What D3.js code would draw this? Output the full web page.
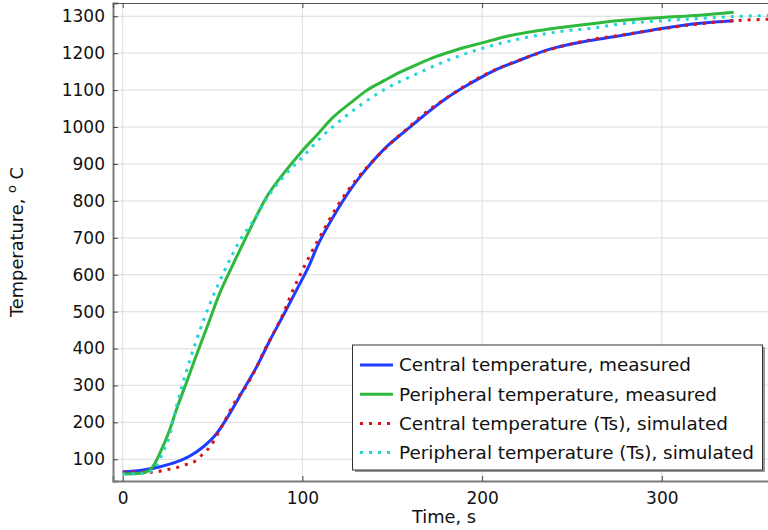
<!DOCTYPE html>
<html>
<head>
<meta charset="utf-8">
<script src="https://cdn.jsdelivr.net/npm/d3@7"></script>
<style>
  body { margin: 0; background: #fff; }
  svg { display: block; font-family: "DejaVu Sans", sans-serif; }
</style>
</head>
<body>
<div id="chart"></div>
<script>
// 数据
const xTicks = [0, 100, 200, 300];
const yTicks = [100, 200, 300, 400, 500, 600, 700, 800, 900, 1000, 1100, 1200, 1300];

const seriesNames = [
    "Central temperature, measured",
    "Peripheral temperature, measured",
    "Central temperature (Ts), simulated",
    "Peripheral temperature (Ts), simulated"
];

const tCentralMeas = [0, 11.5, 20.8, 30, 37.4, 44.9, 52.3, 59.7, 67.1, 74.6, 82, 89.4, 96.8, 104.2, 108, 117.2, 126.5, 135.8, 146.9, 156.2, 167.3, 178.4, 189.5, 200, 210, 219.3, 237.8, 256.3, 274.9, 300, 321.3, 340];
const vCentralMeas = [66, 71, 80, 93, 109, 134, 170, 225, 288, 351, 423, 490, 559, 630, 674, 757, 829, 888, 947, 985, 1030, 1072, 1107, 1136, 1160, 1178, 1211, 1231, 1246, 1267, 1281, 1288];

const tPeriphMeas = [0, 10, 15, 18, 21, 26, 30, 36, 41, 47, 54, 62, 71, 80, 90, 100, 108, 117, 127, 136, 146, 155, 164, 175, 185, 200, 214, 234, 256, 275, 300, 321, 340];
const vPeriphMeas = [60, 62, 70, 90, 120, 178, 236, 315, 382, 459, 550, 634, 725, 810, 877, 936, 978, 1026, 1066, 1100, 1127, 1150, 1170, 1192, 1208, 1228, 1246, 1263, 1277, 1288, 1297, 1303, 1311];

const tCentralSim = [0, 15, 20, 23.5, 29, 34.7, 40, 45, 48.6, 54, 57, 62.5, 69, 74, 78, 84.8, 89.4, 94, 98.7, 103.8, 110, 120, 130, 140, 150, 160, 170, 180, 190, 200, 220, 240, 260, 280, 300, 320, 340, 360];
const vCentralSim = [65, 65, 67, 71, 76, 85, 94, 116, 134, 179, 206, 256, 300, 345, 387, 450, 495, 550, 599, 649, 705, 790, 858, 912, 960, 1003, 1045, 1078, 1110, 1138, 1180, 1213, 1236, 1251, 1266, 1279, 1288, 1292];

const tPeriphSim = [0, 10, 15, 19, 22.6, 25.4, 30, 32.8, 37.4, 43, 48.6, 56, 66, 73, 82, 93, 100, 110, 117, 130, 145, 164, 182, 200, 225, 247, 262, 275, 300, 321, 349, 360];
const vPeriphSim = [60, 62, 66, 85, 121, 152, 245, 295, 369, 450, 522, 604, 699, 748, 820, 884, 918, 970, 1001, 1051, 1100, 1145, 1183, 1213, 1243, 1261, 1268, 1278, 1288, 1294, 1301, 1302];

const colors = ["#1f3dff", "#2eb83c", "#dd1111", "#1fd6d6"];
const dashed = [false, false, true, true];

const series = [
    [tCentralMeas, vCentralMeas],
    [tPeriphMeas, vPeriphMeas],
    [tCentralSim, vCentralSim],
    [tPeriphSim, vPeriphSim]
].map(function (s, i) {
    return {
        name: seriesNames[i],
        color: colors[i],
        dashed: dashed[i],
        values: s[0].map(function (t, j) { return {t: t, v: s[1][j]}; })
    };
});

const width = 768, height = 530;
const pLeft = 113, pRight = 775, pTop = 3, pBottom = 481;

const x = d3.scaleLinear().domain([-5.4, 363]).range([pLeft, pRight]);
const y = d3.scaleLinear().domain([41.2, 1336]).range([pBottom, pTop]);

const svg = d3.select("#chart").append("svg")
    .attr("width", width)
    .attr("height", height);

// 网格
svg.append("g").selectAll("line").data(yTicks).enter().append("line")
    .attr("x1", pLeft).attr("x2", pRight)
    .attr("y1", function (d) { return y(d); }).attr("y2", function (d) { return y(d); })
    .attr("stroke", "#e3e3e3").attr("stroke-width", 1.2);
svg.append("g").selectAll("line").data(xTicks).enter().append("line")
    .attr("y1", pTop).attr("y2", pBottom)
    .attr("x1", function (d) { return x(d); }).attr("x2", function (d) { return x(d); })
    .attr("stroke", "#e3e3e3").attr("stroke-width", 1.2);

// 曲线
svg.append("clipPath").attr("id", "clip").append("rect")
    .attr("x", pLeft).attr("y", pTop).attr("width", pRight - pLeft).attr("height", pBottom - pTop);

const line = d3.line()
    .x(function (d) { return x(d.t); })
    .y(function (d) { return y(d.v); })
    .curve(d3.curveMonotoneX);

svg.append("g").attr("clip-path", "url(#clip)")
    .selectAll("path").data(series).enter().append("path")
    .attr("d", function (d) { return line(d.values); })
    .attr("fill", "none")
    .attr("stroke", function (d) { return d.color; })
    .attr("stroke-width", 3)
    .attr("stroke-dasharray", function (d) { return d.dashed ? "3,6" : null; });

// 坐标轴
const axisLeft = d3.axisLeft(y).tickValues(yTicks).tickSize(-5).tickPadding(8).tickFormat(d3.format("d"));
const gy = svg.append("g").attr("transform", "translate(" + pLeft + ",0)").call(axisLeft);
const axisBottom = d3.axisBottom(x).tickValues(xTicks).tickSize(-5).tickPadding(11).tickFormat(d3.format("d"));
const gx = svg.append("g").attr("transform", "translate(0," + pBottom + ")").call(axisBottom);
const axisTop = d3.axisTop(x).tickValues(xTicks).tickSize(-5).tickFormat("");
const gt = svg.append("g").attr("transform", "translate(0," + pTop + ")").call(axisTop);

[gx, gy].forEach(function (g) {
    g.select(".domain").attr("stroke", "#7a7a7a").attr("stroke-width", 2);
    g.selectAll(".tick line").attr("stroke", "#444");
    g.selectAll(".tick text").attr("font-size", 17).attr("fill", "#111")
        .attr("font-family", "DejaVu Sans, sans-serif");
});
gt.select(".domain").attr("stroke", "#555").attr("stroke-width", 1.2);
gt.selectAll(".tick line").attr("stroke", "#444");

// 轴标题
svg.append("text")
    .attr("x", 444).attr("y", 523)
    .attr("text-anchor", "middle").attr("font-size", 17.8).attr("fill", "#111")
    .text("Time, s");

const yTitle = svg.append("text")
    .attr("transform", "translate(23," + ((pTop + pBottom) / 2) + ") rotate(-90)")
    .attr("text-anchor", "middle").attr("font-size", 17.8).attr("fill", "#111");
yTitle.append("tspan").text("Temperature, ");
yTitle.append("tspan").attr("font-size", 13).attr("dy", -7).text("o");
yTitle.append("tspan").attr("dy", 7).text(" C");

// 图例
const lg = svg.append("g");
lg.append("rect").attr("x", 355).attr("y", 347).attr("width", 410).attr("height", 125)
    .attr("fill", "#999");
lg.append("rect").attr("x", 352.5).attr("y", 345).attr("width", 410).attr("height", 125)
    .attr("fill", "#fff").attr("stroke", "#333").attr("stroke-width", 1);

const rows = lg.selectAll("g.row").data(series).enter().append("g")
    .attr("class", "row")
    .attr("transform", function (d, i) { return "translate(0," + (365 + i * 29.2) + ")"; });
rows.append("line")
    .attr("x1", 360).attr("x2", 393).attr("y1", 0).attr("y2", 0)
    .attr("stroke", function (d) { return d.color; })
    .attr("stroke-width", 3)
    .attr("stroke-dasharray", function (d) { return d.dashed ? "3,6" : null; });
rows.append("text")
    .attr("x", 399).attr("y", 0).attr("dy", "0.35em")
    .attr("font-size", 18.4).attr("fill", "#111")
    .text(function (d) { return d.name; });
</script>
</body>
</html>
